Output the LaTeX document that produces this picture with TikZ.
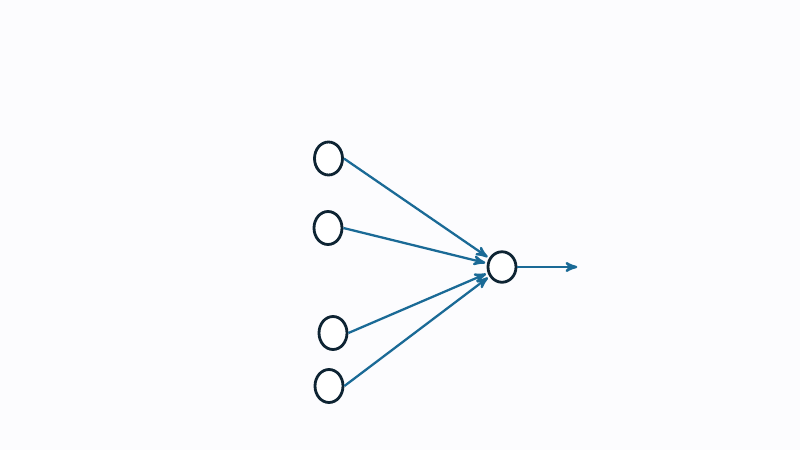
\documentclass[tikz,border=0pt]{standalone}
\usepackage{xcolor}
\usetikzlibrary{arrows,positioning,shapes.geometric}
\definecolor{nodeline}{HTML}{0E2433}
\definecolor{edgeblue}{HTML}{1A6A96}
\definecolor{paper}{HTML}{FCFCFE}

\begin{document}
\begin{tikzpicture}[->,>=stealth',shorten >=1pt,auto,semithick,
                    inputnode/.style={ellipse, draw=nodeline, line width=1.6pt, fill=white, minimum width=0.56cm, minimum height=0.66cm, inner sep=0pt},
                    outputnode/.style={ellipse, draw=nodeline, line width=1.6pt, fill=white, minimum width=0.56cm, minimum height=0.61cm, inner sep=0pt}]
      \fill[paper] (0,0) rectangle (16,9);
      \useasboundingbox (0,0) rectangle (16,9);

      \node[inputnode]   (x1) at (6.57,5.83) {};
      \node[inputnode]   (x2) at (6.56,4.44) {};
      \node[inputnode]   (x3) at (6.66,2.34) {};
      \node[inputnode]   (x4) at (6.58,1.28) {};
      \node[outputnode]  (y)  at (10.04,3.66) {};
      \coordinate (out) at (11.58,3.66);
      \path[edgeblue, line width=1.3pt]
            (x1.east) edge (y)
            (x2.east) edge (y)
            (x3.east) edge (y)
            (x4.east) edge (y)
            (y)  edge (out);
    \end{tikzpicture}
\end{document}
